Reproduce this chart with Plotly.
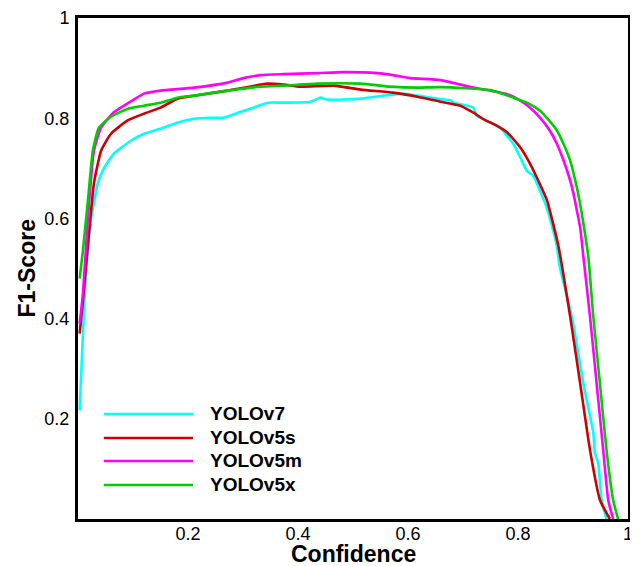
import plotly.graph_objects as go

names = ["YOLOv7", "YOLOv5s", "YOLOv5m", "YOLOv5x"]
colors = ["rgb(0,255,255)", "rgb(204,0,0)", "rgb(255,0,255)", "rgb(0,204,0)"]

v7_x = [0.003, 0.015, 0.024, 0.036, 0.047, 0.065, 0.096, 0.12, 0.15, 0.18, 0.211, 0.241, 0.265,
        0.301, 0.314, 0.345, 0.374, 0.423, 0.441, 0.454, 0.514, 0.555, 0.592, 0.617, 0.659, 0.677,
        0.683, 0.719, 0.725, 0.75, 0.768, 0.78, 0.792, 0.804, 0.816, 0.828, 0.84, 0.852, 0.864,
        0.871, 0.876, 0.898, 0.919, 0.937, 0.94, 0.946, 0.952, 0.961]
v7_y = [0.217, 0.502, 0.60, 0.67, 0.70, 0.729, 0.755, 0.769, 0.779, 0.791, 0.799, 0.801, 0.801,
        0.815, 0.819, 0.831, 0.831, 0.833, 0.841, 0.837, 0.839, 0.845, 0.849, 0.845, 0.838, 0.836,
        0.831, 0.821, 0.805, 0.791, 0.781, 0.765, 0.748, 0.722, 0.695, 0.685, 0.655, 0.622, 0.576,
        0.542, 0.503, 0.403, 0.270, 0.171, 0.131, 0.111, 0.038, 0.0]

v5s_x = [0.003, 0.009, 0.02, 0.029, 0.042, 0.06, 0.091, 0.12, 0.15, 0.181, 0.211, 0.272, 0.332,
         0.345, 0.374, 0.405, 0.465, 0.514, 0.573, 0.617, 0.659, 0.695, 0.719, 0.737, 0.756, 0.78,
         0.804, 0.822, 0.834, 0.853, 0.864, 0.874, 0.895, 0.913, 0.931, 0.949, 0.967]
v5s_y = [0.37, 0.436, 0.57, 0.67, 0.735, 0.769, 0.796, 0.809, 0.821, 0.839, 0.845, 0.855, 0.867,
         0.869, 0.867, 0.863, 0.865, 0.857, 0.851, 0.843, 0.833, 0.825, 0.811, 0.798, 0.788, 0.772,
         0.742, 0.709, 0.682, 0.635, 0.589, 0.542, 0.403, 0.271, 0.137, 0.038, 0.0]

v5m_x = [0.003, 0.009, 0.018, 0.029, 0.042, 0.065, 0.094, 0.12, 0.15, 0.211, 0.272, 0.301, 0.332,
         0.374, 0.436, 0.483, 0.544, 0.573, 0.604, 0.659, 0.719, 0.78, 0.804, 0.822, 0.84, 0.858,
         0.871, 0.883, 0.895, 0.901, 0.907, 0.913, 0.919, 0.931, 0.943, 0.955, 0.964, 0.973]
v5m_y = [0.39, 0.45, 0.60, 0.735, 0.781, 0.812, 0.832, 0.849, 0.855, 0.861, 0.871, 0.88, 0.886,
         0.888, 0.89, 0.892, 0.89, 0.886, 0.88, 0.876, 0.861, 0.848, 0.835, 0.821, 0.801, 0.775,
         0.748, 0.715, 0.675, 0.649, 0.616, 0.582, 0.522, 0.403, 0.270, 0.137, 0.038, 0.0]

v5x_x = [0.003, 0.009, 0.018, 0.027, 0.038, 0.06, 0.091, 0.12, 0.15, 0.181, 0.211, 0.272, 0.332,
         0.374, 0.436, 0.514, 0.568, 0.617, 0.659, 0.75, 0.792, 0.816, 0.84, 0.852, 0.871, 0.883,
         0.895, 0.907, 0.913, 0.922, 0.928, 0.937, 0.949, 0.961, 0.973, 0.982]
v5x_y = [0.48, 0.536, 0.635, 0.735, 0.781, 0.803, 0.819, 0.825, 0.831, 0.841, 0.845, 0.855, 0.863,
         0.865, 0.869, 0.869, 0.863, 0.861, 0.862, 0.856, 0.841, 0.831, 0.815, 0.801, 0.775, 0.748,
         0.715, 0.662, 0.629, 0.569, 0.522, 0.403, 0.270, 0.137, 0.038, 0.0]

series_x = [v7_x, v5s_x, v5m_x, v5x_x]
series_y = [v7_y, v5s_y, v5m_y, v5x_y]

x_ticks = [0.2, 0.4, 0.6, 0.8, 1]
x_ticktext = ["0.2", "0.4", "0.6", "0.8", "1"]
y_ticks = [0.2, 0.4, 0.6, 0.8, 1]
y_ticktext = ["0.2", "0.4", "0.6", "0.8", "1"]

FONT = "Liberation Sans, Arial, sans-serif"

fig = go.Figure()
for n, c, xs, ys in zip(names, colors, series_x, series_y):
    fig.add_trace(go.Scatter(x=xs, y=ys, mode="lines", name=n,
                             line=dict(color=c, width=2.6, shape="spline", smoothing=0.5),
                             showlegend=False))

# manual legend (long line samples like the original)
leg_y = [0.2096, 0.1617, 0.1158, 0.0679]
shapes = []
annotations = []
for n, c, ly in zip(names, colors, leg_y):
    shapes.append(dict(type="line", xref="paper", yref="paper", x0=0.047, x1=0.209,
                       y0=ly, y1=ly, line=dict(color=c, width=2.6)))
    annotations.append(dict(xref="paper", yref="paper", x=0.236, y=ly, text="<b>%s</b>" % n,
                            showarrow=False, xanchor="left", yanchor="middle",
                            font=dict(family=FONT, size=19, color="black")))

# axis titles
annotations.append(dict(xref="paper", yref="paper", x=0.5, y=0, yshift=-35,
                        text="<b>Confidence</b>", showarrow=False,
                        xanchor="center", yanchor="middle",
                        font=dict(family=FONT, size=23, color="black")))
annotations.append(dict(xref="paper", yref="paper", x=0, y=0.5, xshift=-52,
                        text="<b>F1-Score</b>", showarrow=False, textangle=-90,
                        xanchor="center", yanchor="middle",
                        font=dict(family=FONT, size=23, color="black")))

fig.update_layout(
    width=630, height=558,
    margin=dict(l=70, r=10, t=10, b=47),
    paper_bgcolor="white", plot_bgcolor="white",
    font=dict(family=FONT, size=18, color="black"),
    shapes=shapes, annotations=annotations,
    showlegend=False,
)
fig.update_xaxes(range=[0, 1], tickvals=x_ticks, ticktext=x_ticktext, showgrid=False, zeroline=False,
                 showline=True, linecolor="black", linewidth=3, mirror=True, ticks="",
                 ticklabelstandoff=-4, automargin=False)
fig.update_yaxes(range=[0, 1], tickvals=y_ticks, ticktext=y_ticktext, showgrid=False, zeroline=False,
                 showline=True, linecolor="black", linewidth=3, mirror=True, ticks="",
                 ticklabelstandoff=2, automargin=False)

fig.write_html("out.html")
